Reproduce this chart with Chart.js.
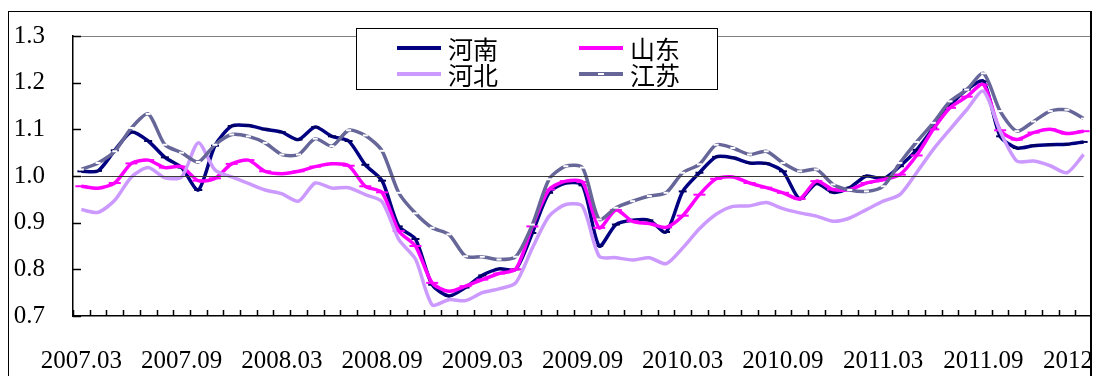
<!DOCTYPE html>
<html>
<head>
<meta charset="utf-8">
<script src="https://cdn.jsdelivr.net/npm/chart.js@4/dist/chart.umd.min.js"></script>
<style>
  html, body { margin: 0; padding: 0; background: #fff; width: 1093px; height: 376px; overflow: hidden; }
  #clip { position: absolute; left: 0; top: 0; width: 1090px; height: 376px; overflow: hidden; }
  #wrap { position: absolute; left: 0; top: 0; width: 1100px; height: 376px; }
  #frame { position: absolute; left: 8px; top: 11px; width: 1084px; height: 400px; box-sizing: border-box;
           border-top: 1px solid #000; border-left: 1px solid #000; border-right: 2px solid #000; }
  #legend { position: absolute; left: 356px; top: 28px; width: 362px; height: 62px; box-sizing: border-box;
            border: 1px solid #000; background: #fff; font-family: "Noto Sans CJK SC"; font-size: 25px; color: #000; }
  .item { position: absolute; display: flex; align-items: center; height: 26px; line-height: 26px; }
  .swatch { position: relative; width: 44px; height: 4px; margin-right: 7px; }
  .swatch i { position: absolute; left: 19px; top: 1px; width: 6px; height: 2px; }
</style>
</head>
<body>
<div id="clip"><div id="wrap"><canvas id="chart"></canvas></div></div>
<div id="frame"></div>
<div id="legend"></div>
<script>
// ---------------------------------------------------------------------------
// Data (monthly, 2007.03 - 2012.03)
// ---------------------------------------------------------------------------
const months = [];
for (let y = 2007; y <= 2012; y++) {
  for (let m = 1; m <= 12; m++) {
    if ((y === 2007 && m < 3) || (y === 2012 && m > 3)) continue;
    months.push(y + "." + String(m).padStart(2, "0"));
  }
}

const henan = [1.010, 1.011, 1.055, 1.094, 1.075, 1.040, 1.018, 0.970, 1.065, 1.107,
               1.108, 1.100, 1.094, 1.078, 1.105, 1.085, 1.075, 1.024, 0.990, 0.892,
               0.865, 0.767, 0.743, 0.761, 0.787, 0.801, 0.800, 0.878, 0.964, 0.985,
               0.980, 0.850, 0.896, 0.905, 0.905, 0.880, 0.967, 1.007, 1.041, 1.039,
               1.028, 1.027, 1.010, 0.951, 0.984, 0.965, 0.975, 1.000, 0.994, 1.021,
               1.056, 1.103, 1.150, 1.185, 1.203, 1.085, 1.060, 1.065, 1.067, 1.068,
               1.073];
const shandong = [0.978, 0.974, 0.985, 1.027, 1.034, 1.018, 1.020, 0.990, 0.995, 1.026,
                  1.034, 1.010, 1.005, 1.010, 1.020, 1.026, 1.022, 0.978, 0.965, 0.882,
                  0.850, 0.771, 0.753, 0.764, 0.778, 0.791, 0.800, 0.892, 0.971, 0.989,
                  0.987, 0.889, 0.927, 0.903, 0.898, 0.890, 0.915, 0.960, 0.994, 0.998,
                  0.985, 0.975, 0.964, 0.951, 0.989, 0.971, 0.971, 0.985, 0.992, 1.003,
                  1.044, 1.100, 1.146, 1.170, 1.196, 1.098, 1.078, 1.093, 1.100, 1.091,
                  1.096];
const hebei = [0.928, 0.922, 0.948, 0.998, 1.018, 0.996, 0.998, 1.071, 1.013, 0.998,
               0.984, 0.970, 0.962, 0.946, 0.985, 0.974, 0.975, 0.960, 0.945, 0.864,
               0.822, 0.724, 0.735, 0.733, 0.750, 0.758, 0.771, 0.846, 0.914, 0.939,
               0.935, 0.828, 0.825, 0.820, 0.825, 0.812, 0.846, 0.887, 0.918, 0.935,
               0.936, 0.943, 0.930, 0.921, 0.914, 0.903, 0.910, 0.928, 0.946, 0.960,
               1.007, 1.057, 1.100, 1.142, 1.182, 1.096, 1.032, 1.032, 1.022, 1.007,
               1.046];
const jiangsu = [1.014, 1.028, 1.053, 1.103, 1.133, 1.067, 1.050, 1.030, 1.067, 1.089,
                 1.085, 1.071, 1.046, 1.046, 1.080, 1.064, 1.098, 1.087, 1.054, 0.964,
                 0.920, 0.889, 0.875, 0.828, 0.827, 0.821, 0.827, 0.896, 0.993, 1.021,
                 1.018, 0.907, 0.932, 0.946, 0.957, 0.964, 1.007, 1.025, 1.067, 1.060,
                 1.046, 1.053, 1.028, 1.010, 1.014, 0.982, 0.970, 0.967, 0.978, 1.028,
                 1.073, 1.114, 1.160, 1.185, 1.220, 1.139, 1.096, 1.117, 1.139, 1.142,
                 1.123];

const yTicks = [0.7, 0.8, 0.9, 1.0, 1.1, 1.2, 1.3];
const baseLine = 1.0;

const series = [
  { label: "河南", data: henan,    color: "#000080", mark: "#000060", markR: 4 },
  { label: "山东", data: shandong, color: "#FF00FF", mark: "#FF00FF", markR: 6 },
  { label: "河北", data: hebei,    color: "#CC99FF", mark: null,      markR: 0 },
  { label: "江苏", data: jiangsu,  color: "#666699", mark: "#FFFFFF", markR: 2.5 },
];

const FONT = "'Liberation Serif', 'Times New Roman', serif";

// ---------------------------------------------------------------------------
// Plugins: inward ticks + 1.0 reference line
// ---------------------------------------------------------------------------
const extras = {
  id: "extras",
  afterDatasetsDraw(chart) {
    const { ctx, chartArea: a, scales: { x, y } } = chart;
    ctx.save();
    // reference line at 1.0 from first to last category
    ctx.strokeStyle = "#3a3a3a";
    ctx.lineWidth = 1;
    const yb = Math.round(y.getPixelForValue(baseLine)) + 0.5;
    ctx.beginPath();
    ctx.moveTo(x.getPixelForValue(0), yb);
    ctx.lineTo(x.getPixelForValue(months.length - 1), yb);
    ctx.stroke();
    // inward ticks
    ctx.strokeStyle = "#000";
    ctx.lineWidth = 1.5;
    const step = x.getPixelForValue(1) - x.getPixelForValue(0);
    ctx.beginPath();
    for (let k = 0; k <= months.length; k++) {
      const px = Math.round(x.getPixelForValue(0) - step / 2 + k * step) + 0.5;
      ctx.moveTo(px, a.bottom);
      ctx.lineTo(px, a.bottom - 6);
    }
    for (const t of yTicks) {
      const py = Math.round(y.getPixelForValue(t)) + 0.5;
      ctx.moveTo(a.left, py);
      ctx.lineTo(a.left + 8, py);
    }
    ctx.stroke();
    ctx.restore();
  }
};

// ---------------------------------------------------------------------------
// Chart
// ---------------------------------------------------------------------------
new Chart(document.getElementById("chart"), {
  type: "line",
  data: {
    labels: months,
    datasets: series.map((s, i) => ({
      label: s.label,
      data: s.data,
      borderColor: s.color,
      backgroundColor: s.color,
      borderWidth: 3.5,
      tension: 0.25,
      pointStyle: "line",
      pointRadius: s.markR,
      pointBorderWidth: 2,
      pointBorderColor: s.mark || s.color,
      order: series.length - i,
    }))
  },
  options: {
    responsive: true,
    maintainAspectRatio: false,
    animation: false,
    devicePixelRatio: 1,
    layout: { padding: { left: 0, top: 36, right: 5, bottom: 0 } },
    plugins: { legend: { display: false }, tooltip: { enabled: false } },
    scales: {
      x: {
        offset: true,
        grid: { display: false, drawTicks: false },
        border: { display: true, color: "#000", width: 1.5 },
        afterFit: s => { s.height = 60; s.paddingLeft = 0; s.paddingRight = 0; },
        ticks: {
          autoSkip: false, maxRotation: 0, padding: 30, color: "#000",
          font: { family: FONT, size: 25 },
          callback: (v, i) => (i % 6 === 0 ? months[i] : ""),
        },
      },
      y: {
        min: 0.7, max: 1.3,
        afterFit: s => { s.width = 73; s.paddingTop = 0; s.paddingBottom = 0; },
        grid: {
          drawTicks: false,
          color: c => (Math.abs(c.tick.value - 1.3) < 1e-6 ? "#808080" : "rgba(0,0,0,0)"),
        },
        border: { display: true, color: "#000", width: 1.5 },
        afterBuildTicks: s => { s.ticks = yTicks.map(v => ({ value: v })); },
        ticks: {
          padding: 28, color: "#000",
          font: { family: FONT, size: 25 },
          callback: v => v.toFixed(1),
        },
      },
    },
  },
  plugins: [extras],
});

// ---------------------------------------------------------------------------
// Legend (two columns, Excel-style)
// ---------------------------------------------------------------------------
const legendPos = [[40, 6], [222, 6], [40, 32], [222, 32]];
document.getElementById("legend").innerHTML = series.map((s, i) => `
  <div class="item" style="left:${legendPos[i][0]}px;top:${legendPos[i][1]}px">
    <span class="swatch" style="background:${s.color}">${s.mark === "#FFFFFF" ? '<i style="background:#fff"></i>' : ""}</span>${s.label}
  </div>`).join("");
</script>
</body>
</html>
